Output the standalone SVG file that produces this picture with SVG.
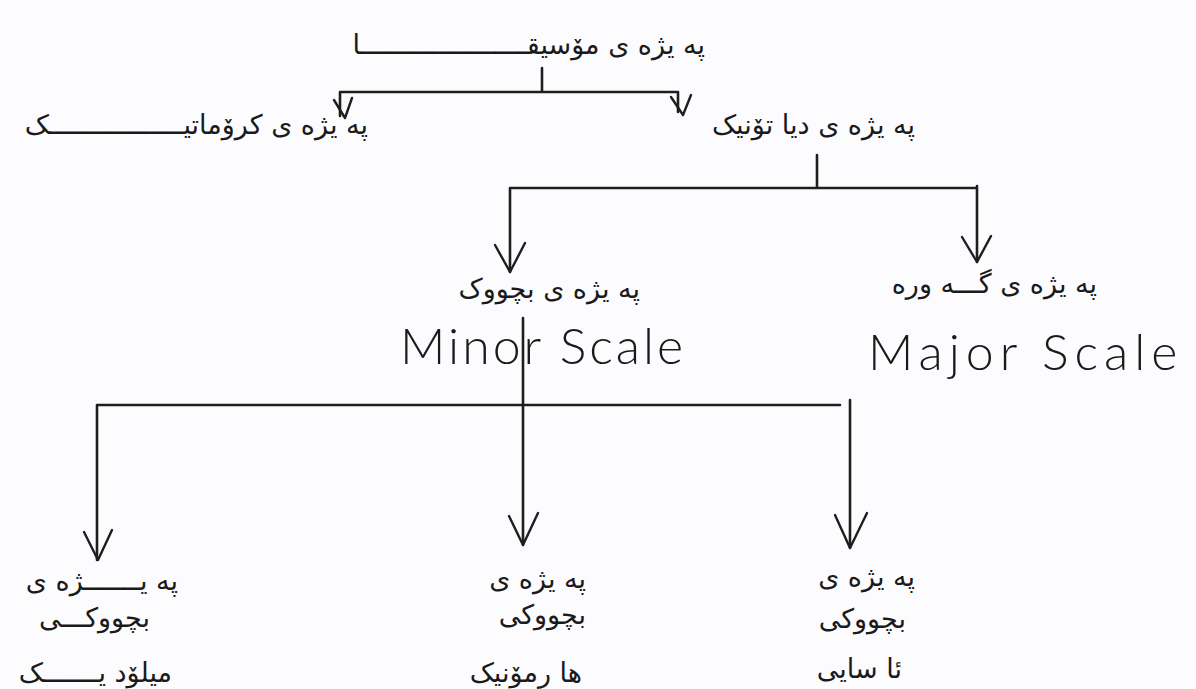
<svg xmlns="http://www.w3.org/2000/svg" width="1196" height="689" viewBox="0 0 1196 689">
<style>
.ar{font-family:"DejaVu Sans","Noto Sans",sans-serif;font-size:27px;fill:#1a1a1a;direction:rtl}
.en{font-family:"Lato","Open Sans",sans-serif;font-weight:300;font-size:50px;fill:#1a1a1a;letter-spacing:3px}
.ln{fill:none;stroke:#1e1e1e;stroke-width:2.6;stroke-linecap:round;stroke-linejoin:round}
.ah{fill:none;stroke:#1e1e1e;stroke-width:2.4;stroke-linecap:round;stroke-linejoin:round}
</style>
<rect width="1196" height="689" fill="#fcfcfe"/>
<g id="connectors">
<path class="ln" d="M542 68 V92 M340 92 H678 M340 92 V116 M678 92 V112"/>
<path class="ah" d="M334 100 L345 118 L352 98"/>
<path class="ah" d="M671 97 L683 115 L691 95"/>
<path class="ln" d="M817 155 V187 M510 188 H977 M510 188 V272 M977 186 V262"/>
<path class="ah" d="M495 245 L510 272 L525 243"/>
<path class="ah" d="M962 237 L977 262 L991 236"/>
<path class="ln" d="M523 318 V545 M97 405 H840 M97 405 V560 M850 400 V548"/>
<path class="ah" d="M84 532 L98 560 L112 530"/>
<path class="ah" d="M509 516 L523 545 L538 513"/>
<path class="ah" d="M835 515 L850 548 L867 513"/>
</g>
<g id="music"><text class="ar" x="705" y="54" text-anchor="start">پە یژە ی مۆسیقـــــــــــــــــــــا</text></g>
<g id="chromatic"><text class="ar" x="368" y="134" text-anchor="start">پە یژە ی کرۆماتیـــــــــــــــــک</text></g>
<g id="diatonic"><text class="ar" x="915" y="134" text-anchor="start">پە یژە ی دیا تۆنیک</text></g>
<g id="minor">
<text class="ar" x="640" y="298" text-anchor="start">پە یژە ی بچووک</text>
<text class="en" x="400" y="364">Minor Scale</text>
</g>
<g id="major">
<text class="ar" x="1097" y="293" text-anchor="start">پە یژە ی گـــە ورە</text>
<text class="en" x="868" y="370" style="letter-spacing:6px">Major Scale</text>
</g>
<g id="melodic">
<text class="ar" x="178" y="590" text-anchor="start">پە یـــــــژە ی</text>
<text class="ar" x="150" y="627" text-anchor="start">بچووکـــی</text>
<text class="ar" x="172" y="682" text-anchor="start">میلۆد یـــــــک</text>
</g>
<g id="harmonic">
<text class="ar" x="586" y="588" text-anchor="start">پە یژە ی</text>
<text class="ar" x="586" y="624" text-anchor="start">بچووکی</text>
<text class="ar" x="582" y="682" text-anchor="start">ها رمۆنیک</text>
</g>
<g id="natural">
<text class="ar" x="915" y="586" text-anchor="start">پە یژە ی</text>
<text class="ar" x="906" y="628" text-anchor="start">بچووکی</text>
<text class="ar" x="902" y="678" text-anchor="start">ئا سایی</text>
</g>
</svg>
